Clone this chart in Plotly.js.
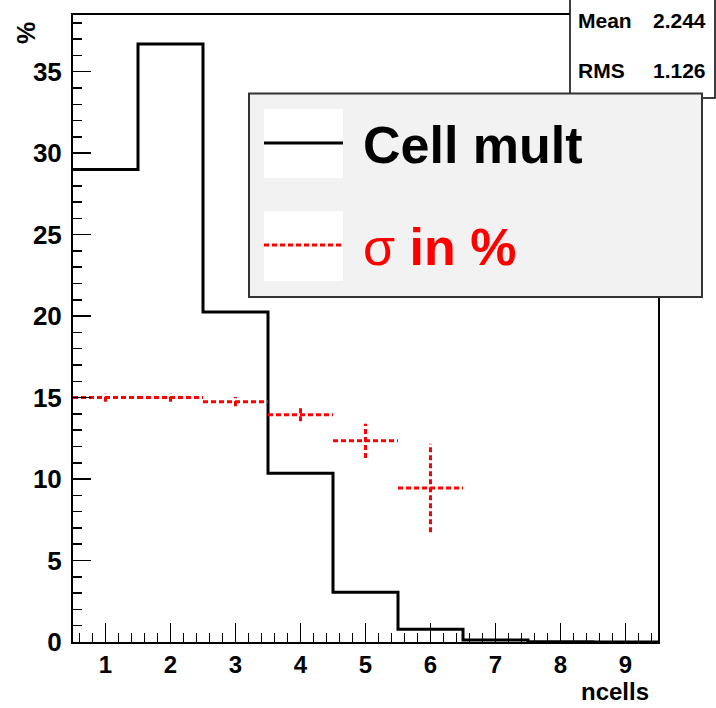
<!DOCTYPE html>
<html>
<head>
<meta charset="utf-8">
<script src="https://cdn.plot.ly/plotly-3.0.1.min.js"></script>
<style>html,body{margin:0;padding:0;background:#fff;}#chart{width:716px;height:708px;}</style>
</head>
<body>
<div id="chart"></div>
<script>
// ---- data ----
const binCenters = [1, 2, 3, 4, 5, 6, 7, 8, 9];
const cellMult   = [29.0, 36.7, 20.25, 10.35, 3.06, 0.78, 0.12, 0.02, 0.0];
const sigmaX     = [1, 2, 3, 4, 5, 6];
const sigmaVal   = [15.0, 15.0, 14.75, 13.95, 12.35, 9.45];
const sigmaErr   = [0.25, 0.25, 0.28, 0.4, 1.05, 2.72];
const statLabels = ["Mean", "RMS"];
const statValues = ["2.244", "1.126"];
const legendLabels = ["Cell mult", "σ<b> in %</b>"];

// ---- geometry helpers (pixel -> paper) ----
const W = 716, H = 708;
const L = 73, R = 58, T = 15, B = 66;
const pw = W - L - R, ph = H - T - B;
const px = v => (v - L) / pw;
const py = v => (H - B - v) / ph;

const FONT = "Liberation Sans, Arial, Helvetica, sans-serif";
const binWidth = 1;

// histogram step line
const hx = binCenters.map(c => c - binWidth / 2).concat([binCenters[binCenters.length - 1] + binWidth / 2]);
const hy = cellMult.concat([cellMult[cellMult.length - 1]]);

// sigma crosses
const sx = [], sy = [];
sigmaX.forEach((x, i) => {
  sx.push(x - binWidth / 2, x + binWidth / 2, null, x, x, null);
  sy.push(sigmaVal[i], sigmaVal[i], null, sigmaVal[i] - sigmaErr[i], sigmaVal[i] + sigmaErr[i], null);
});

const traces = [
  {x: hx, y: hy, type: 'scatter', mode: 'lines', line: {shape: 'hv', color: '#000', width: 3},
   name: 'Cell mult', hoverinfo: 'skip'},
  {x: sx, y: sy, type: 'scatter', mode: 'lines', line: {color: '#ff0000', width: 3, dash: '5px,3px'},
   name: 'σ in %', connectgaps: false, hoverinfo: 'skip'}
];

const shapes = [
  // stats box
  {type: 'rect', xref: 'paper', yref: 'paper', x0: px(570), x1: px(715), y0: py(-5), y1: py(98),
   fillcolor: '#ffffff', line: {color: '#000', width: 1.5}, layer: 'above'},
  // legend box
  {type: 'rect', xref: 'paper', yref: 'paper', x0: px(249), x1: px(702), y0: py(93.5), y1: py(297),
   fillcolor: '#f2f2f2', line: {color: '#333', width: 2}, layer: 'above'},
  // legend sample boxes
  {type: 'rect', xref: 'paper', yref: 'paper', x0: px(264), x1: px(343), y0: py(109), y1: py(178),
   fillcolor: '#ffffff', line: {width: 0}, layer: 'above'},
  {type: 'rect', xref: 'paper', yref: 'paper', x0: px(264), x1: px(343), y0: py(211), y1: py(281),
   fillcolor: '#ffffff', line: {width: 0}, layer: 'above'},
  {type: 'line', xref: 'paper', yref: 'paper', x0: px(264), x1: px(343), y0: py(143), y1: py(143),
   line: {color: '#000', width: 3}, layer: 'above'},
  {type: 'line', xref: 'paper', yref: 'paper', x0: px(264), x1: px(343), y0: py(245), y1: py(245),
   line: {color: '#ff0000', width: 3, dash: '5px,3px'}, layer: 'above'}
];

const annotations = [
  {text: statLabels[0], xref: 'paper', yref: 'paper', x: px(576), y: py(20), xanchor: 'left', yanchor: 'middle',
   showarrow: false, font: {family: FONT, size: 21, color: '#000', weight: 700}},
  {text: statValues[0], xref: 'paper', yref: 'paper', x: px(708), y: py(20), xanchor: 'right', yanchor: 'middle',
   showarrow: false, font: {family: FONT, size: 21, color: '#000', weight: 700}},
  {text: statLabels[1], xref: 'paper', yref: 'paper', x: px(576), y: py(70.5), xanchor: 'left', yanchor: 'middle',
   showarrow: false, font: {family: FONT, size: 21, color: '#000', weight: 700}},
  {text: statValues[1], xref: 'paper', yref: 'paper', x: px(708), y: py(70.5), xanchor: 'right', yanchor: 'middle',
   showarrow: false, font: {family: FONT, size: 21, color: '#000', weight: 700}},
  {text: legendLabels[0], xref: 'paper', yref: 'paper', x: px(361), y: py(145), xanchor: 'left', yanchor: 'middle',
   showarrow: false, font: {family: FONT, size: 52, color: '#000', weight: 700}},
  {text: legendLabels[1], xref: 'paper', yref: 'paper', x: px(361), y: py(247), xanchor: 'left', yanchor: 'middle',
   showarrow: false, font: {family: FONT, size: 52, color: '#ff0000', weight: 400}},
  // axis titles (ROOT style placement)
  {text: 'ncells', xref: 'paper', yref: 'paper', x: px(650), y: py(691), xanchor: 'right', yanchor: 'middle',
   showarrow: false, borderpad: 0, font: {family: FONT, size: 24, color: '#000', weight: 700}},
  {text: '%', xref: 'paper', yref: 'paper', x: px(26), y: py(33), xanchor: 'center', yanchor: 'middle',
   textangle: -90, showarrow: false, font: {family: FONT, size: 25, color: '#000', weight: 700}}
];

const layout = {
  width: W, height: H,
  margin: {l: L, r: R, t: T, b: B, pad: 0},
  paper_bgcolor: '#ffffff', plot_bgcolor: '#ffffff',
  showlegend: false,
  xaxis: {
    range: [0.5, 9.5], dtick: 1, tick0: 0, showgrid: false, zeroline: false,
    showline: true, mirror: true, linecolor: '#000', linewidth: 2,
    ticks: 'inside', ticklen: 19, tickwidth: 1.5, tickcolor: '#000',
    minor: {dtick: 0.2, ticks: 'inside', ticklen: 9, tickwidth: 1.5, tickcolor: '#000', showgrid: false},
    tickfont: {family: FONT, size: 24, color: '#000', weight: 700},
    ticklabelstandoff: 0
  },
  yaxis: {
    range: [0, 38.48], dtick: 5, tick0: 0, showgrid: false, zeroline: false,
    showline: true, mirror: true, linecolor: '#000', linewidth: 2,
    ticks: 'inside', ticklen: 18, tickwidth: 1.5, tickcolor: '#000',
    minor: {dtick: 1, ticks: 'inside', ticklen: 9, tickwidth: 1.5, tickcolor: '#000', showgrid: false},
    tickfont: {family: FONT, size: 26, color: '#000', weight: 700},
    ticklabelstandoff: 4
  },
  shapes: shapes,
  annotations: annotations
};

Plotly.newPlot('chart', traces, layout, {staticPlot: true, displayModeBar: false});
</script>
</body>
</html>
